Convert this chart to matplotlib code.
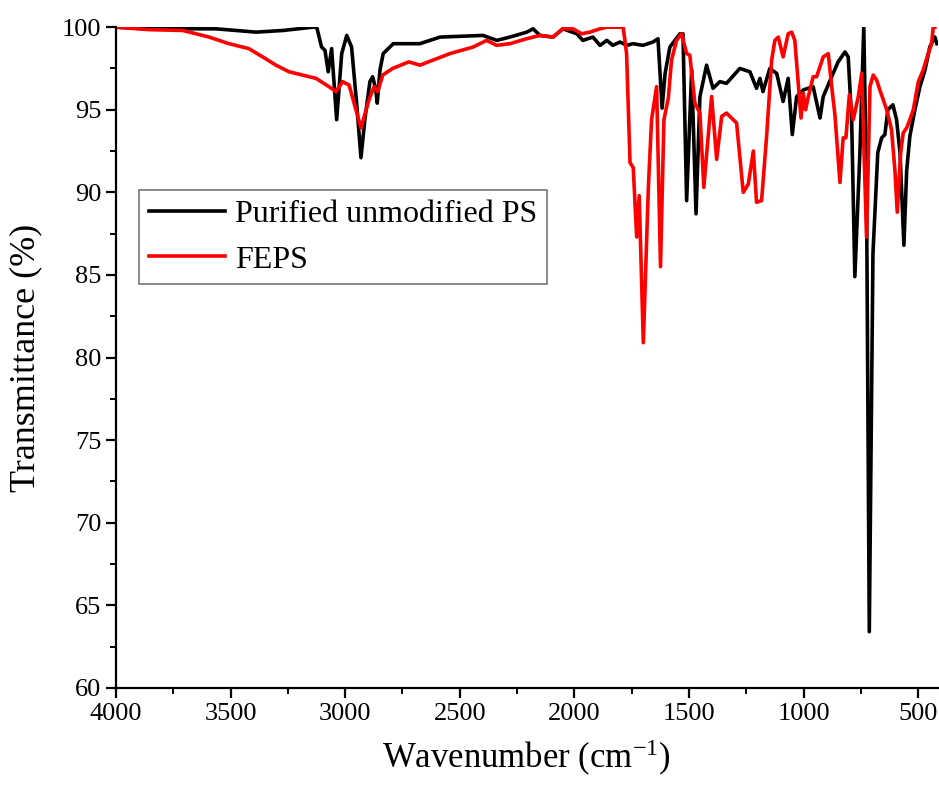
import matplotlib
matplotlib.use("Agg")
import matplotlib.pyplot as plt
from matplotlib.ticker import MultipleLocator

# Purified unmodified PS (wavenumber cm-1, transmittance %)
ps_wn = [4000, 3852, 3564, 3389, 3271, 3140, 3124, 3103, 3088, 3074, 3059, 3037, 3015, 2993,
         2972, 2950, 2931, 2914, 2892, 2880, 2866, 2860, 2848, 2834, 2790, 2761, 2674, 2586,
         2399, 2338, 2281, 2207, 2180, 2150, 2093, 2050, 1989, 1963, 1919, 1888, 1858, 1832,
         1801, 1771, 1744, 1701, 1657, 1635, 1617, 1604, 1583, 1539, 1526, 1510, 1488, 1469,
         1452, 1423, 1395, 1365, 1336, 1278, 1234, 1205, 1190, 1177, 1147, 1117, 1089, 1067,
         1049, 1030, 1001, 958, 928, 914, 877, 849, 819, 805, 790, 776, 754, 737, 725, 713,
         697, 676, 659, 645, 632, 610, 594, 579, 562, 550, 536, 514, 492, 470, 449, 427, 418]
ps_t = [100.0, 99.9, 99.9, 99.7, 99.8, 100.0, 100.0, 98.8, 98.6, 97.3, 98.7, 94.4, 98.4, 99.5,
        98.8, 95.4, 92.1, 94.4, 96.7, 97.0, 96.2, 95.4, 97.4, 98.4, 99.0, 99.0, 99.0, 99.4,
        99.5, 99.2, 99.4, 99.7, 99.9, 99.5, 99.4, 99.9, 99.6, 99.2, 99.4, 98.9, 99.2, 98.9,
        99.1, 98.9, 99.0, 98.9, 99.1, 99.3, 95.1, 97.2, 98.8, 99.6, 99.6, 89.5, 97.4, 88.7,
        95.8, 97.7, 96.3, 96.7, 96.6, 97.5, 97.3, 96.3, 96.9, 96.1, 97.5, 97.2, 95.5, 96.9,
        93.5, 95.8, 96.2, 96.4, 94.5, 95.8, 97.0, 97.9, 98.5, 98.2, 94.4, 84.9, 92.4, 100.0, 90.0, 63.4,
        86.3, 92.4, 93.3, 93.5, 95.0, 95.3, 94.4, 92.4, 86.8, 91.3, 93.4, 95.0, 96.4, 97.4, 98.8, 99.4, 99.0]

# FEPS
feps_wn = [4000, 3856, 3709, 3665, 3594, 3507, 3420, 3360, 3302, 3245, 3127, 3071, 3040, 3011,
           2983, 2931, 2896, 2874, 2858, 2836, 2793, 2722, 2674, 2543, 2441, 2383, 2339, 2281,
           2208, 2150, 2093, 2050, 2006, 1968, 1932, 1888, 1859, 1787, 1772, 1757, 1743, 1728,
           1717, 1699, 1677, 1663, 1641, 1624, 1609, 1590, 1576, 1554, 1532, 1510, 1496, 1474,
           1452, 1435, 1416, 1401, 1379, 1357, 1336, 1307, 1292, 1263, 1241, 1219, 1205, 1183,
           1161, 1139, 1125, 1110, 1089, 1067, 1052, 1038, 1023, 1011, 1001, 991, 979, 958, 943,
           914, 892, 877, 863, 841, 827, 815, 800, 783, 761, 746, 725, 710, 696, 681, 667, 652,
           637, 616, 601, 591, 576, 565, 550, 536, 521, 499, 478, 456, 441, 434, 427]
feps_t = [100.0, 99.85, 99.8, 99.65, 99.4, 99.0, 98.7, 98.2, 97.7, 97.3, 96.9, 96.4, 96.1, 96.7,
          96.5, 93.9, 95.6, 96.4, 96.1, 97.1, 97.5, 97.9, 97.7, 98.4, 98.8, 99.2, 98.9, 99.0,
          99.3, 99.5, 99.4, 99.9, 99.9, 99.6, 99.7, 99.9, 100.0, 100.0, 98.4, 91.8, 91.5, 87.3,
          89.8, 80.9, 90.3, 94.4, 96.4, 85.5, 94.4, 95.7, 98.0, 99.2, 99.6, 98.4, 98.3, 95.4,
          94.8, 90.3, 93.4, 95.8, 92.0, 94.6, 94.8, 94.4, 94.2, 90.0, 90.5, 92.5, 89.4, 89.5,
          93.4, 98.0, 99.2, 99.4, 98.2, 99.6, 99.7, 99.2, 96.6, 94.5, 96.0, 95.0, 95.8, 97.0, 97.0,
          98.2, 98.4, 96.4, 94.7, 90.6, 93.3, 93.3, 95.9, 94.4, 95.8, 97.2, 87.3, 96.4, 97.1, 96.8, 96.2, 95.6,
          95.0, 93.8, 91.3, 88.8, 92.4, 93.6, 93.9, 94.4, 95.0, 96.7, 97.4, 98.4, 99.0, 100.0, 100.0]

x_ticks = [4000, 3500, 3000, 2500, 2000, 1500, 1000, 500]
y_ticks = [60, 65, 70, 75, 80, 85, 90, 95, 100]

plt.rcParams['font.family'] = ['Liberation Serif', 'DejaVu Serif']
plt.rcParams['mathtext.fontset'] = 'custom'
plt.rcParams['mathtext.rm'] = 'Liberation Serif'

fig = plt.figure(figsize=(9.39, 7.99), dpi=100)
ax = fig.add_axes([0.1235, 0.139, 0.875, 0.827])

ax.plot(ps_wn, ps_t, color='black', lw=2.6, label='Purified unmodified PS')
ax.plot(feps_wn, feps_t, color='#ff0000', lw=2.6, label='FEPS')

ax.set_xlim(4000, 415)
ax.set_ylim(60, 100)
ax.set_xticks(x_ticks)
ax.set_yticks(y_ticks)
ax.xaxis.set_minor_locator(MultipleLocator(250))
ax.yaxis.set_minor_locator(MultipleLocator(2.5))
for s in ['top', 'right']:
    ax.spines[s].set_visible(False)
for s in ['left', 'bottom']:
    ax.spines[s].set_linewidth(1.6)
ax.tick_params(which='major', direction='out', length=7, width=1.6, labelsize=19)
ax.tick_params(which='minor', direction='out', length=4, width=1.4)

ax.set_xlabel('Wavenumber (cm$\\mathregular{^{-1}}$)', fontsize=25, labelpad=10)
ax.set_ylabel('Transmittance (%)', fontsize=26, labelpad=14)

leg = ax.legend(loc='upper left', bbox_to_anchor=(0.028, 0.753), fontsize=23, frameon=True,
                fancybox=False, edgecolor='#555555', borderpad=0.3, handlelength=2.4,
                handletextpad=0.3, labelspacing=0.5, borderaxespad=0)
leg.get_frame().set_linewidth(1.2)
for line in leg.get_lines():
    line.set_linewidth(2.6)

fig.savefig('out.png', dpi=100)
